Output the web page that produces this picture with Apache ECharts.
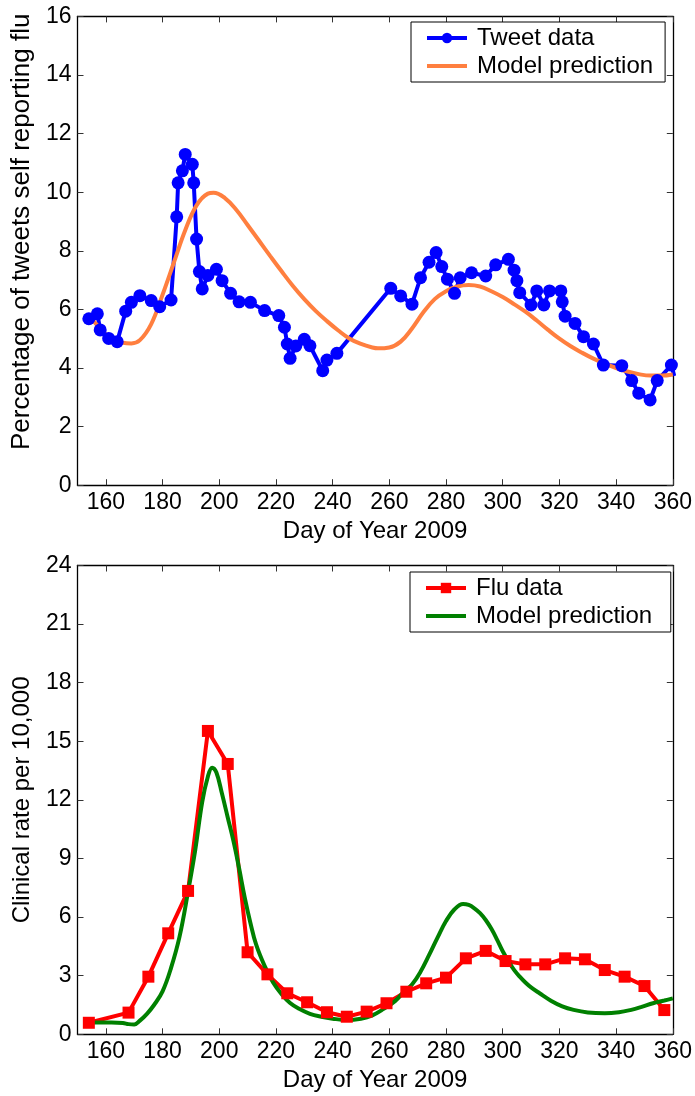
<!DOCTYPE html>
<html>
<head>
<meta charset="utf-8">
<script src="https://cdn.jsdelivr.net/npm/echarts@6/dist/echarts.min.js"></script>
<style>html,body{margin:0;padding:0;background:#fff;}#c{width:695px;height:1096px;}</style>
</head>
<body>
<div id="c"></div>
<script>
// ---- Data ----
var xTicks = [160, 180, 200, 220, 240, 260, 280, 300, 320, 340, 360];

var tweetDays = [154,157,158,161,164,167,169,172,176,179,183,185,185.5,187,188,190.5,191,192,193,194,196,199,201,204,207,211,216,221,223,224,225,227,230,232,236.5,238,241.5,260.5,264,268,271,274,276.5,278.5,280.5,283,285,289,294,297.5,302,304,305,306,310,312,314.5,316.5,320.5,321,322,325.5,328.5,332,335.5,342,345.5,348,352,354.5,359.5,360.5];
var tweetVals = [5.68,5.85,5.30,5.01,4.90,5.94,6.24,6.47,6.30,6.09,6.32,9.16,10.32,10.73,11.29,10.95,10.32,8.40,7.29,6.70,7.16,7.37,6.98,6.55,6.26,6.24,5.96,5.79,5.39,4.82,4.33,4.75,4.98,4.76,3.91,4.27,4.50,6.72,6.46,6.18,7.08,7.61,7.94,7.46,7.03,6.55,7.08,7.25,7.14,7.52,7.71,7.34,6.98,6.57,6.15,6.63,6.15,6.63,6.63,6.26,5.77,5.52,5.07,4.82,4.10,4.08,3.57,3.14,2.91,3.57,4.10,3.73];

var tweetModelDays = [154,158,162,166,169,172,176,180,184,188,192,196,198,202,206,210,214,218,222,226,230,234,238,242,246,250,254,256,260,264,268,272,276,280,284,288,292,296,300,304,308,312,316,320,324,328,332,336,340,344,348,352,356,360];
var tweetModelVals = [5.80,5.35,5.00,4.86,4.84,4.95,5.50,6.50,7.60,8.70,9.55,9.95,9.98,9.80,9.40,8.88,8.35,7.82,7.30,6.80,6.35,5.95,5.60,5.28,5.00,4.82,4.70,4.67,4.70,4.90,5.35,5.90,6.35,6.62,6.78,6.83,6.78,6.62,6.42,6.18,5.92,5.62,5.30,5.00,4.74,4.52,4.32,4.15,4.00,3.88,3.79,3.74,3.74,3.78];

var fluDays = [154,168,175,182,189,196,203,210,217,224,231,238,245,252,259,266,273,280,287,294,301,308,315,322,329,336,343,350,357];
var fluVals = [0.59,1.11,2.95,5.17,7.34,15.53,13.84,4.20,3.07,2.10,1.64,1.13,0.90,1.16,1.59,2.18,2.61,2.90,3.89,4.27,3.75,3.58,3.58,3.89,3.84,3.29,2.95,2.47,1.24];

var fluModelDays = [154,158,162,166,168,170,172,174.5,177,180,183,186,189,191.5,194,196,197.5,199,201,203,205,207,209,211,213,216,219,222,225,228,232,236,240,245,250,254,258,262,265,268,271,274,277,280,283,286,288,290,292,294,296,298,300,302,304,306,308,310,313,317,321,325,330,336,341,345,349,353,357,360];
var fluModelVals = [0.60,0.60,0.60,0.58,0.52,0.50,0.70,1.05,1.50,2.20,3.40,5.00,7.30,9.40,11.90,13.20,13.65,13.40,12.30,11.10,9.90,8.50,7.00,5.70,4.60,3.50,2.65,2.05,1.60,1.32,1.05,0.90,0.80,0.73,0.80,0.97,1.30,1.70,2.15,2.55,3.20,4.05,4.95,5.80,6.40,6.67,6.62,6.45,6.20,5.85,5.40,4.85,4.25,3.75,3.30,2.95,2.65,2.40,2.10,1.72,1.43,1.25,1.12,1.08,1.13,1.24,1.40,1.59,1.73,1.84];

function pairs(xs, ys) { return xs.map(function (x, i) { return [x, ys[i]]; }); }

var FONT = 'Liberation Sans, Arial, sans-serif';
var TICK_FS = 23;
var axisLineStyle = { color: '#000', width: 1.3 };
var tickStyle = { color: '#333', width: 1 };

function xAxisPair(gridIndex) {
  return [
    {
      type: 'value', gridIndex: gridIndex, min: 150, max: 360, position: 'bottom',
      name: 'Day of Year 2009', nameLocation: 'middle', nameGap: 34,
      nameTextStyle: { fontFamily: FONT, fontSize: 24, color: '#000' },
      axisLine: { show: true, onZero: false, lineStyle: axisLineStyle },
      axisTick: { show: true, inside: true, length: 6, lineStyle: tickStyle, customValues: xTicks },
      axisLabel: { show: true, margin: 6, fontFamily: FONT, fontSize: TICK_FS, color: '#000', customValues: xTicks },
      splitLine: { show: false }
    },
    {
      type: 'value', gridIndex: gridIndex, min: 150, max: 360, position: 'top',
      axisLine: { show: true, onZero: false, lineStyle: axisLineStyle },
      axisTick: { show: true, inside: true, length: 6, lineStyle: tickStyle, customValues: xTicks },
      axisLabel: { show: false },
      splitLine: { show: false }
    }
  ];
}

function yAxisPair(gridIndex, max, interval, name, nameFs, nameGap, namePad) {
  return [
    {
      type: 'value', gridIndex: gridIndex, min: 0, max: max, interval: interval, position: 'left',
      name: name, nameLocation: 'middle', nameGap: nameGap, nameRotate: 90,
      nameTextStyle: { fontFamily: FONT, fontSize: nameFs, color: '#000', padding: namePad },
      axisLine: { show: true, onZero: false, lineStyle: axisLineStyle },
      axisTick: { show: true, inside: true, length: 6, lineStyle: tickStyle },
      axisLabel: { show: true, margin: 6, fontFamily: FONT, fontSize: TICK_FS, color: '#000' },
      splitLine: { show: false }
    },
    {
      type: 'value', gridIndex: gridIndex, min: 0, max: max, interval: interval, position: 'right',
      axisLine: { show: true, onZero: false, lineStyle: axisLineStyle },
      axisTick: { show: true, inside: true, length: 6, lineStyle: tickStyle },
      axisLabel: { show: false },
      splitLine: { show: false }
    }
  ];
}

var lineIcon = 'path://M0,0 L40,0 L40,4 L0,4 Z';

var legendCommon = {
  orient: 'vertical', itemWidth: 40, itemHeight: 13, itemGap: 2,
  backgroundColor: '#fff', borderColor: '#000', borderWidth: 1, borderRadius: 0,
  padding: [3, 12, 3, 14],
  lineStyle: { width: 4 },
  textStyle: { fontFamily: FONT, fontSize: 24, color: '#000', lineHeight: 26, padding: [0, 0, 0, 5] }
};

var chart = echarts.init(document.getElementById('c'), null, { renderer: 'canvas' });
chart.setOption({
  animation: false,
  backgroundColor: '#fff',
  grid: [
    { left: 77.5, top: 16.4, width: 596, height: 468.8 },
    { left: 77.5, top: 565.5, width: 596, height: 468.8 }
  ],
  xAxis: xAxisPair(0).concat(xAxisPair(1)),
  yAxis: yAxisPair(0, 16, 2, 'Percentage of tweets self reporting flu', 26, 42, [0, 0, 0, 38])
    .concat(yAxisPair(1, 24, 3, 'Clinical rate per 10,000', 24, 43, [0, 0, 0, 0])),
  legend: [
    Object.assign({}, legendCommon, { left: 411, top: 22,
      data: ['Tweet data', { name: 'Model prediction', icon: lineIcon }] }),
    Object.assign({}, legendCommon, { left: 410, top: 572,
      data: ['Flu data', { name: 'Model prediction ', icon: lineIcon }] })
  ],
  series: [
    {
      name: 'Tweet data', type: 'line', xAxisIndex: 0, yAxisIndex: 0,
      data: pairs(tweetDays, tweetVals),
      symbol: 'circle', symbolSize: 13, showAllSymbol: true,
      lineStyle: { color: '#0000ff', width: 4 },
      itemStyle: { color: '#0000ff', borderWidth: 0 }
    },
    {
      name: 'Model prediction', type: 'line', xAxisIndex: 0, yAxisIndex: 0,
      data: pairs(tweetModelDays, tweetModelVals),
      smooth: 0.4, symbol: 'none',
      lineStyle: { color: '#ff7f3f', width: 4 },
      itemStyle: { color: '#ff7f3f' }
    },
    {
      name: 'Flu data', type: 'line', xAxisIndex: 2, yAxisIndex: 2,
      data: pairs(fluDays, fluVals),
      symbol: 'rect', symbolSize: 12, showAllSymbol: true,
      lineStyle: { color: '#ff0000', width: 4 },
      itemStyle: { color: '#ff0000', borderWidth: 0 }
    },
    {
      name: 'Model prediction ', type: 'line', xAxisIndex: 2, yAxisIndex: 2,
      data: pairs(fluModelDays, fluModelVals),
      smooth: 0.4, symbol: 'none',
      lineStyle: { color: '#008000', width: 4 },
      itemStyle: { color: '#008000' }
    }
  ]
});
</script>
</body>
</html>
